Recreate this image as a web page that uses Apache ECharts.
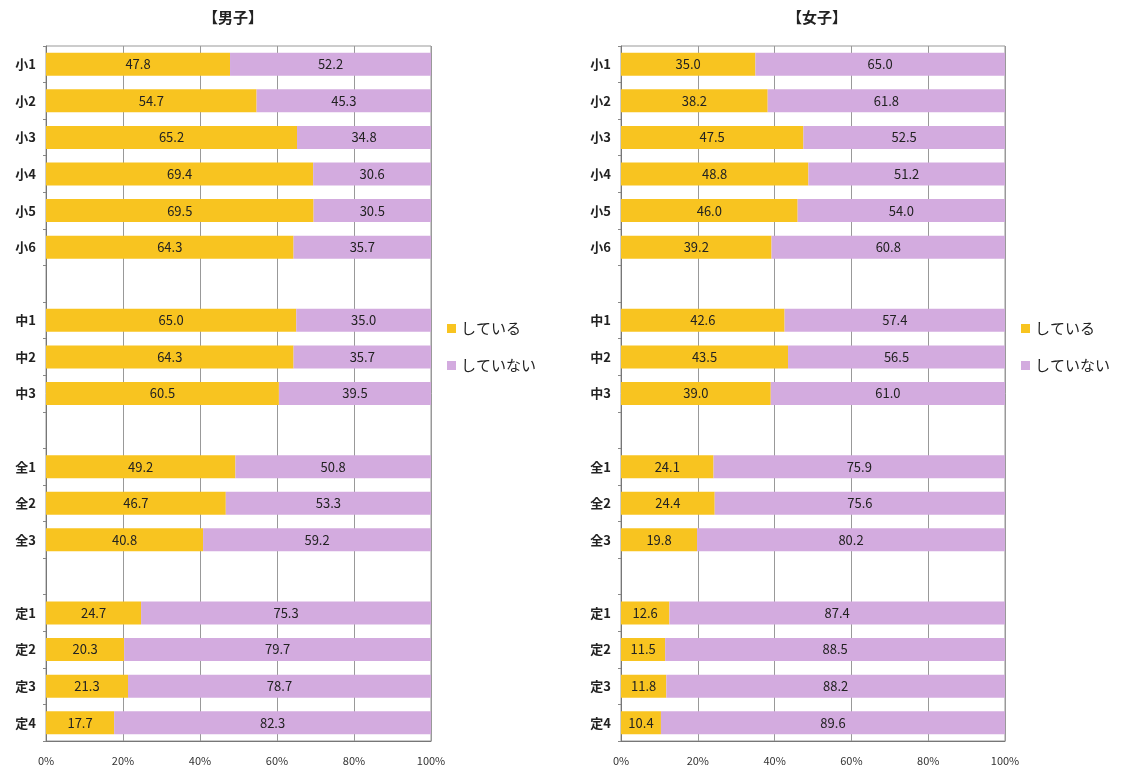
<!DOCTYPE html>
<html>
<head>
<meta charset="utf-8">
<script src="https://cdn.jsdelivr.net/npm/echarts@6/dist/echarts.min.js"></script>
<style>
  html, body { margin: 0; padding: 0; background: #fff; }
  #chart { width: 1122px; height: 774px; }
</style>
</head>
<body>
<div id="chart"></div>
<script>
// categories (blank rows separate the school groups)
const categories = ['小1', '小2', '小3', '小4', '小5', '小6', ' ',
  '中1', '中2', '中3', '  ',
  '全1', '全2', '全3', '   ',
  '定1', '定2', '定3', '定4'];

const boysYes = [47.8, 54.7, 65.2, 69.4, 69.5, 64.3, null, 65.0, 64.3, 60.5, null, 49.2, 46.7, 40.8, null, 24.7, 20.3, 21.3, 17.7];
const boysNo  = [52.2, 45.3, 34.8, 30.6, 30.5, 35.7, null, 35.0, 35.7, 39.5, null, 50.8, 53.3, 59.2, null, 75.3, 79.7, 78.7, 82.3];
const girlsYes = [35.0, 38.2, 47.5, 48.8, 46.0, 39.2, null, 42.6, 43.5, 39.0, null, 24.1, 24.4, 19.8, null, 12.6, 11.5, 11.8, 10.4];
const girlsNo  = [65.0, 61.8, 52.5, 51.2, 54.0, 60.8, null, 57.4, 56.5, 61.0, null, 75.9, 75.6, 80.2, null, 87.4, 88.5, 88.2, 89.6];

const seriesNames = ['している', 'していない'];
const colors = ['#F8C420', '#D3ABDF'];

const font = '"Noto Sans CJK JP", "Noto Sans", sans-serif';

function xAxis(gridIndex) {
  return {
    type: 'value', gridIndex, min: 0, max: 100, interval: 20,
    axisLabel: { formatter: '{value}%', color: '#333', fontSize: 11, margin: 14, fontFamily: font },
    axisLine: { show: true, lineStyle: { color: '#777' } },
    axisTick: { show: false },
    splitLine: { show: true, lineStyle: { color: '#999', width: 1 } }
  };
}

function yAxis(gridIndex) {
  return {
    type: 'category', gridIndex, data: categories, inverse: true,
    axisLabel: { color: '#222', fontSize: 13, fontWeight: 'bold', margin: 10, fontFamily: font },
    axisLine: { show: true, lineStyle: { color: '#777' } },
    axisTick: { show: true, length: 3, lineStyle: { color: '#888' } }
  };
}

function bar(name, data, idx, color, stack) {
  return {
    name, type: 'bar', stack, data,
    xAxisIndex: idx, yAxisIndex: idx,
    barWidth: 23,
    itemStyle: { color },
    label: {
      show: true, position: 'inside', color: '#222', fontSize: 13, fontFamily: font,
      formatter: p => p.value == null ? '' : p.value.toFixed(1)
    }
  };
}

function legend(left) {
  return {
    data: seriesNames, left, top: 316, orient: 'vertical',
    icon: 'rect', itemWidth: 9, itemHeight: 9, itemGap: 22,
    textStyle: { fontSize: 15, color: '#222', fontFamily: font }
  };
}

const chart = echarts.init(document.getElementById('chart'));
chart.setOption({
  animation: false,
  color: colors,
  title: [
    { text: '【男子】', left: 228, top: 5, textAlign: 'center',
      textStyle: { fontSize: 15, fontWeight: 'bold', color: '#222', fontFamily: font } },
    { text: '【女子】', left: 812, top: 5, textAlign: 'center',
      textStyle: { fontSize: 15, fontWeight: 'bold', color: '#222', fontFamily: font } }
  ],
  legend: [legend(442), legend(1016)],
  grid: [
    { left: 46, right: 691, top: 46, bottom: 33, show: true, borderColor: '#999', borderWidth: 1 },
    { left: 621, right: 117, top: 46, bottom: 33, show: true, borderColor: '#999', borderWidth: 1 }
  ],
  xAxis: [xAxis(0), xAxis(1)],
  yAxis: [yAxis(0), yAxis(1)],
  series: [
    bar(seriesNames[0], boysYes, 0, colors[0], 'boys'),
    bar(seriesNames[1], boysNo, 0, colors[1], 'boys'),
    bar(seriesNames[0], girlsYes, 1, colors[0], 'girls'),
    bar(seriesNames[1], girlsNo, 1, colors[1], 'girls')
  ]
});
</script>
</body>
</html>
